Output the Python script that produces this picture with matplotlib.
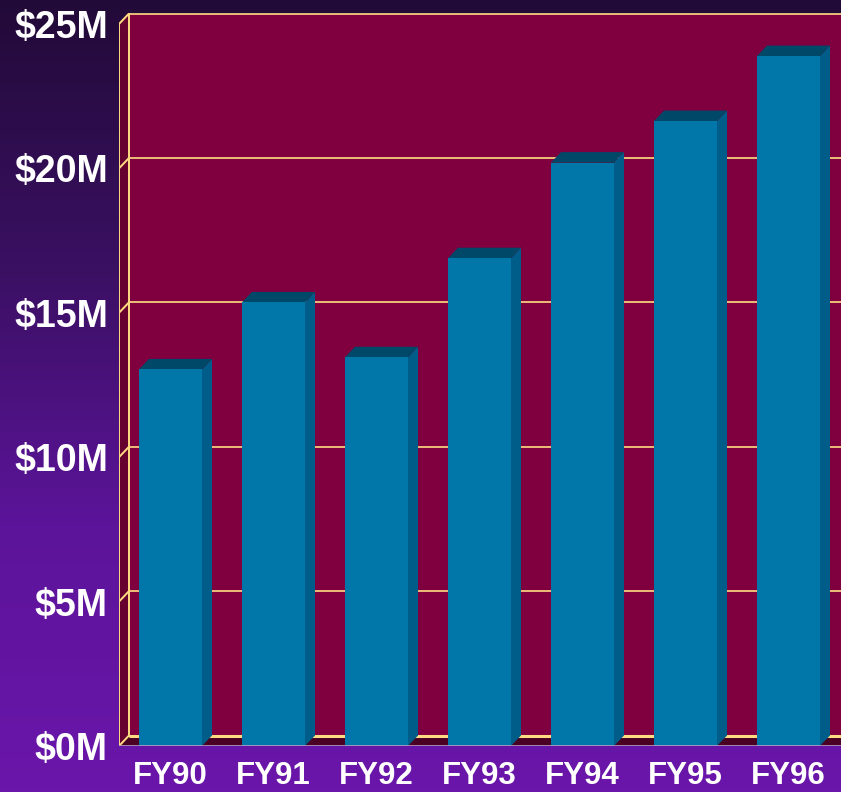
import numpy as np
import matplotlib
matplotlib.use("Agg")
import matplotlib.pyplot as plt
from matplotlib.patches import Polygon, Rectangle
from matplotlib.colors import LinearSegmentedColormap

categories = ["FY90", "FY91", "FY92", "FY93", "FY94", "FY95", "FY96"]
values = [13.04, 15.36, 13.46, 16.89, 20.2, 21.64, 23.89]
yticks = [0, 5, 10, 15, 20, 25]
ytick_labels = ["$0M", "$5M", "$10M", "$15M", "$20M", "$25M"]

W, H = 841, 792
fig = plt.figure(figsize=(W / 100, H / 100), dpi=100)

# background gradient
bg = fig.add_axes([0, 0, 1, 1], zorder=0)
cmap = LinearSegmentedColormap.from_list("bg", ["#220a38", "#3a1062", "#5c149a", "#6a16aa"])
grad = np.linspace(0, 1, 256).reshape(-1, 1)
bg.imshow(grad, aspect="auto", cmap=cmap, extent=[0, 1, 0, 1], origin="upper")
bg.axis("off")

# main axes: front plane from x=119, y 13..746 px
left_px, right_px, top_px, bot_px = 119, 841, 13, 746
ppu_x = 103.0
ppu_y = 28.88
ax = fig.add_axes([left_px / W, (H - bot_px) / H, (right_px - left_px) / W, (bot_px - top_px) / H], zorder=1)
ax.set_xlim(-0.5, -0.5 + (right_px - left_px) / ppu_x)
ax.set_ylim(0, (bot_px - top_px) / ppu_y)
ax.patch.set_alpha(0)
for s in ax.spines.values():
    s.set_visible(False)

dx = 10 / ppu_x
dy = 10.5 / ppu_y
x0, x1 = -0.5, 6.5
ytop = 25

wall = "#80003f"
side = "#66002f"
floor = "#4a0022"
grid = "#ffdc82"

# back wall
ax.add_patch(Rectangle((x0 + dx, dy), (x1 - x0) + 0.5, ytop, fc=wall, ec="none", zorder=1))
# left side wall
ax.add_patch(Polygon([(x0, 0), (x0 + dx, dy), (x0 + dx, ytop + dy), (x0, ytop)], closed=True, fc=side, ec="none", zorder=1))
# floor
ax.add_patch(Polygon([(x0, 0), (x1 + 0.5, 0), (x1 + 0.5 + dx, dy), (x0 + dx, dy)], closed=True, fc=floor, ec="none", zorder=1))

# gridlines
for v in yticks:
    lw = 2.2 if v == 0 else 1.2
    ax.plot([x0 + dx, x1 + 1], [v + dy, v + dy], color=grid, lw=lw, zorder=2, solid_capstyle="butt")
    ax.plot([x0, x0 + dx], [v, v + dy], color=grid, lw=1.4, zorder=2)
ax.plot([x0, x0], [0, ytop], color=grid, lw=1.4, zorder=2)
ax.plot([x0 + dx, x0 + dx], [dy, ytop + dy], color=grid, lw=1.4, zorder=2)
ax.plot([x0, x1 + 1], [0, 0], color="#b89ac8", lw=1.2, zorder=5)

# bars
w = 63 / ppu_x
front_c = "#0077a8"
side_c = "#005c88"
top_c = "#004868"
for i, v in enumerate(values):
    l, r = i - w / 2, i + w / 2
    ax.add_patch(Polygon([(r, 0), (r + dx, dy), (r + dx, v + dy), (r, v)], closed=True, fc=side_c, ec="none", zorder=3))
    ax.add_patch(Polygon([(l, v), (r, v), (r + dx, v + dy), (l + dx, v + dy)], closed=True, fc=top_c, ec="none", zorder=3))
    ax.add_patch(Rectangle((l, 0), w, v, fc=front_c, ec="none", zorder=4))

ax.set_xticks(range(len(categories)))
ax.set_xticklabels(categories, fontsize=22.5, fontweight="bold", color="white", family="Liberation Sans")
ax.set_yticks(yticks)
ax.set_yticklabels(ytick_labels, fontsize=27, fontweight="bold", color="white", family="Liberation Sans")
ax.tick_params(axis="both", length=0)
ax.tick_params(axis="y", pad=8)
ax.tick_params(axis="x", pad=11)

fig.savefig("out.png", dpi=100)
